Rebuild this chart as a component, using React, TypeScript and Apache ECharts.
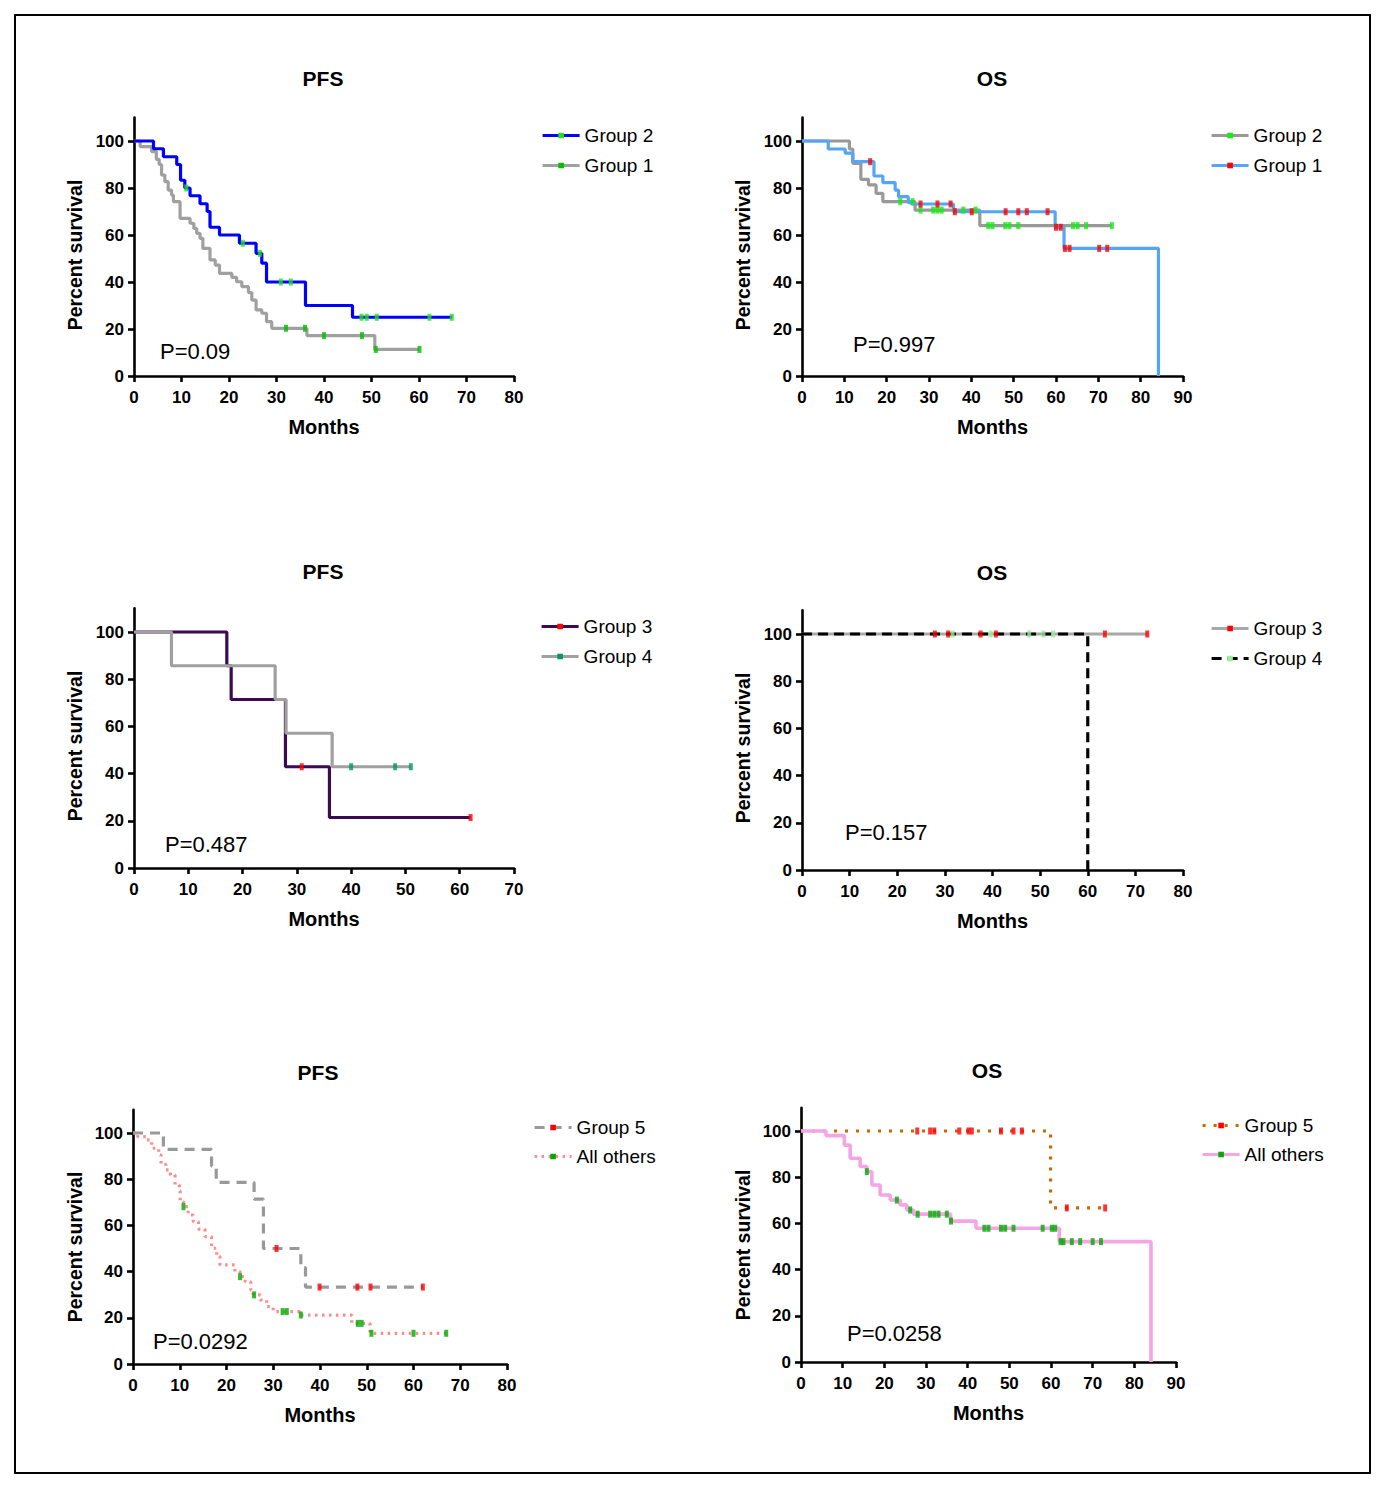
import React, { useEffect, useRef } from "react";
import * as echarts from "echarts";

const FONT = '"Liberation Sans", Arial, Helvetica, sans-serif';

// ---------- DATA ----------
const Y_TICKS = [0, 20, 40, 60, 80, 100];
const TITLES = ["PFS", "OS", "PFS", "OS", "PFS", "OS"];
const P_VALUES = ["P=0.09", "P=0.997", "P=0.487", "P=0.157", "P=0.0292", "P=0.0258"];
const X_MAX = [80, 90, 70, 80, 80, 90];

// Panel 1: PFS
const p1Group2 = [[0, 100], [4.1, 96.7], [6.2, 93.3], [9.0, 90.0], [9.8, 83.3], [10.7, 80.0], [11.8, 76.7], [13.9, 73.3], [15.4, 70.0], [16.0, 63.3], [18.0, 60.0], [22.2, 56.5], [25.7, 52.2], [26.9, 48.0], [27.9, 40.0], [36.1, 30.0], [46.0, 25.0], [67, 25.0]];
const p1Group2Cens = [11, 22.9, 26.5, 30.9, 33, 47.9, 49, 51.1, 62.2, 66.9];
const p1Group1 = [[0, 100], [1.3, 97.6], [3.7, 95.5], [4.7, 92.2], [5.3, 90], [5.8, 85.5], [6.5, 82.7], [7.2, 79.1], [7.9, 77], [8.3, 74.2], [9.7, 67.1], [11.8, 65], [12.6, 62.8], [13.2, 60.7], [13.9, 58.6], [14.5, 54.3], [16, 49.4], [17.1, 47.2], [18, 43.7], [20.6, 42], [21.6, 40.1], [22.7, 38], [24.1, 35.5], [24.8, 32.3], [25.7, 28.1], [26.9, 26.7], [27.9, 23.1], [29, 20.3], [36.4, 17.2], [50.7, 11.3], [60.1, 11.3]];
const p1Group1Cens = [32, 36, 40, 48, 50.9, 60.1];

// Panel 2: OS
const p2Group1 = [[0, 100], [6.2, 96.6], [10.2, 94.8], [12, 91.2], [17, 85.1], [19.1, 82.3], [22, 79.1], [22.8, 76.3], [25.1, 73.8], [25.9, 73.2], [35.8, 69.9], [59.8, 63.3], [61.9, 54.3], [84.2, 0]];
const p2Group1Cens = [16.1, 28, 32, 35.1, 36.1, 40.1, 48.1, 51.1, 53.1, 58, 60, 61.1, 62.1, 63.2, 70.2, 72.1];
const p2Group2 = [[0, 100], [11.2, 96.6], [12, 90.5], [13.9, 83.7], [15.7, 81.3], [17.5, 77.7], [19.1, 74.2], [26.7, 70.6], [42, 64], [73.2, 64]];
const p2Group2Cens = [23.2, 26.1, 28, 31, 32, 33, 38.1, 41, 44, 45, 48, 49, 51.1, 64, 65.1, 67.1, 73.2];

// Panel 3: PFS
const p3Group3 = [[0, 100], [17.1, 85.7], [17.9, 71.4], [27.9, 42.9], [36, 21.4], [62, 21.4]];
const p3Group3Cens = [30.9, 62];
const p3Group4 = [[0, 100], [6.9, 85.7], [26, 71.4], [28, 57.1], [36.5, 42.9], [51, 42.9]];
const p3Group4Cens = [40, 48.1, 51];

// Panel 4: OS
const p4Group3 = [[0, 100], [72.6, 100]];
const p4Group3Cens = [27.9, 30.7, 37.5, 40.7, 63.6, 72.5];
const p4Group4 = [[0, 100], [60, 0]];
const p4Group4Cens = [31.6, 39.6, 47.7, 50.7, 52.7];

// Panel 5: PFS
const p5Group5 = [[0, 100], [6.5, 92.9], [16.8, 85.7], [17.8, 78.6], [25.9, 71.4], [27.9, 50], [35.9, 41.7], [36.9, 33.3], [62, 33.3]];
const p5Group5Cens = [30.7, 39.9, 48, 50.8, 62];
const p5Others = [[0, 100], [1, 98.4], [3, 97], [4, 93.4], [5.5, 90.5], [6, 86.4], [7, 84], [8, 81.8], [9, 77.5], [9.9, 74.9], [10.1, 70.3], [10.8, 68.1], [11.8, 64.5], [12.9, 61.6], [14, 58.4], [15.4, 55.1], [16.8, 50.1], [17.9, 46.5], [18.6, 42.9], [21.8, 40], [22.9, 37.8], [24, 35.6], [25.2, 32], [25.7, 29.9], [27.2, 27.7], [28.6, 24.8], [30, 22.7], [35.7, 21.2], [46.8, 17.6], [50.7, 13.3], [67, 13.3]];
const p5OthersCens = [10.8, 22.9, 25.9, 32, 32.9, 35.9, 48.1, 48.9, 51, 60, 67];

// Panel 6: OS
const p6Group5 = [[0, 100], [59.9, 66.7], [73, 66.7]];
const p6Group5Cens = [27.9, 31, 32, 38, 40.2, 41, 48, 51, 53, 63.8, 73];
const p6Others = [[0, 100], [6, 98], [10.4, 93.9], [11.8, 88.2], [14.2, 84.6], [15.8, 82.4], [17, 76.6], [19, 72.3], [21.4, 70.1], [23.8, 68], [25.4, 65.8], [27, 64], [35.9, 61], [42, 57.9], [62, 52.1], [84, 0]];
const p6OthersCens = [15.8, 23, 26.2, 28, 31, 32, 33, 35, 36, 44, 45, 48, 49, 51, 58, 60.2, 61, 62.3, 63, 65, 67, 70, 72];

// ---------- STYLE / LAYOUT ----------
type Curve = { id: string; label: string; data: number[][]; cens: number[]; color: string; mark: string; width: number; dash?: any };

const PANEL_CURVES: Curve[][] = [
  [
    { id: "p1g1", label: "Group 1", data: p1Group1, cens: p1Group1Cens, color: "#a0a0a0", mark: "#00c000", width: 3.2 },
    { id: "p1g2", label: "Group 2", data: p1Group2, cens: p1Group2Cens, color: "#0000ff", mark: "#22e022", width: 3.2 },
  ],
  [
    { id: "p2g2", label: "Group 2", data: p2Group2, cens: p2Group2Cens, color: "#999999", mark: "#11ee11", width: 3.2 },
    { id: "p2g1", label: "Group 1", data: p2Group1, cens: p2Group1Cens, color: "#55a5f5", mark: "#ff0000", width: 3.2 },
  ],
  [
    { id: "p3g3", label: "Group 3", data: p3Group3, cens: p3Group3Cens, color: "#3b0a52", mark: "#ff0000", width: 3.2 },
    { id: "p3g4", label: "Group 4", data: p3Group4, cens: p3Group4Cens, color: "#a0a0a0", mark: "#009966", width: 3.2 },
  ],
  [
    { id: "p4g3", label: "Group 3", data: p4Group3, cens: p4Group3Cens, color: "#a8a8a8", mark: "#ff0000", width: 3.2 },
    { id: "p4g4", label: "Group 4", data: p4Group4, cens: p4Group4Cens, color: "#000000", mark: "#99ee99", width: 3.2, dash: [10, 6] },
  ],
  [
    { id: "p5o", label: "All others", data: p5Others, cens: p5OthersCens, color: "#ff8c8c", mark: "#00aa00", width: 3.2, dash: [2.5, 4.5] },
    { id: "p5g5", label: "Group 5", data: p5Group5, cens: p5Group5Cens, color: "#999999", mark: "#ff0000", width: 3.2, dash: [10, 7] },
  ],
  [
    { id: "p6g5", label: "Group 5", data: p6Group5, cens: p6Group5Cens, color: "#cc6600", mark: "#ff0000", width: 3.2, dash: [3, 8] },
    { id: "p6o", label: "All others", data: p6Others, cens: p6OthersCens, color: "#f5a5e6", mark: "#00aa00", width: 3.6 },
  ],
];
const LEGEND_ORDER = [["p1g2", "p1g1"], ["p2g2", "p2g1"], ["p3g3", "p3g4"], ["p4g3", "p4g4"], ["p5g5", "p5o"], ["p6g5", "p6o"]];

const LAYOUT = [
  { left: 134, width: 380, y0: 376, y100: 141, title: [323, 78], yName: [75, 255], p: [160, 351], legend: [541, 126], gap: 11 },
  { left: 802, width: 381, y0: 376, y100: 141, title: [992, 78], yName: [743, 255], p: [853, 344], legend: [1210, 126], gap: 11 },
  { left: 134, width: 380, y0: 868, y100: 632, title: [323, 571], yName: [75, 746], p: [165, 844], legend: [540, 617], gap: 11 },
  { left: 802, width: 381, y0: 870, y100: 634, title: [992, 572], yName: [743, 748], p: [845, 832], legend: [1210, 619], gap: 11 },
  { left: 133, width: 374, y0: 1364, y100: 1133, title: [318, 1072], yName: [75, 1247], p: [153, 1341], legend: [533, 1118], gap: 10 },
  { left: 801, width: 375, y0: 1362, y100: 1131, title: [987, 1070], yName: [743, 1245], p: [847, 1333], legend: [1201, 1116], gap: 10 },
];

function survAt(curve: number[][], t: number): number {
  let v = curve[0][1];
  for (const pt of curve) {
    if (pt[0] <= t) v = pt[1];
    else break;
  }
  return v;
}

function buildOption() {
  const labels: Record<string, string> = {};
  PANEL_CURVES.forEach((cs) => cs.forEach((c) => (labels[c.id] = c.label)));

  const grid: any[] = [];
  const xAxis: any[] = [];
  const yAxis: any[] = [];
  const series: any[] = [];
  const legend: any[] = [];
  const graphic: any[] = [
    { type: "rect", shape: { x: 15, y: 15, width: 1355, height: 1458 }, style: { fill: "none", stroke: "#000", lineWidth: 2 }, z: -10, silent: true },
  ];

  const axisLineStyle = { color: "#000", width: 2.6 };
  const labelStyle = { color: "#000", fontSize: 17, fontWeight: "bold", fontFamily: FONT };

  LAYOUT.forEach((L, i) => {
    const h100 = L.y0 - L.y100;
    const height = h100 * 1.1;
    grid.push({ left: L.left, top: L.y0 - height, width: L.width, height });
    xAxis.push({
      gridIndex: i, type: "value", min: 0, max: X_MAX[i], interval: 10,
      axisLine: { show: true, lineStyle: axisLineStyle },
      axisTick: { show: true, length: 6, lineStyle: axisLineStyle },
      axisLabel: { ...labelStyle, margin: 13 },
      splitLine: { show: false },
      name: "Months", nameLocation: "middle", nameGap: 41,
      nameTextStyle: { color: "#000", fontSize: 20, fontWeight: "bold", fontFamily: FONT },
    });
    yAxis.push({
      gridIndex: i, type: "value", min: 0, max: 110,
      axisLine: { show: true, lineStyle: axisLineStyle },
      axisTick: { show: true, length: 6, lineStyle: axisLineStyle, customValues: Y_TICKS },
      axisLabel: { ...labelStyle, margin: 10, customValues: Y_TICKS },
      splitLine: { show: false },
    });

    PANEL_CURVES[i].forEach((c) => {
      series.push({
        type: "line", name: c.id, xAxisIndex: i, yAxisIndex: i, data: c.data, step: "end",
        symbol: "rect", showSymbol: false, symbolSize: [4, 7],
        lineStyle: { color: c.color, width: c.width, type: c.dash || "solid", cap: "butt" },
        itemStyle: { color: c.mark },
        silent: true, emphasis: { disabled: true },
      });
    });
    PANEL_CURVES[i].forEach((c) => {
      series.push({
        type: "scatter", name: c.id + "_cens", xAxisIndex: i, yAxisIndex: i,
        data: c.cens.map((t) => [t, survAt(c.data, t)]),
        symbol: "rect", symbolSize: [4, 7], itemStyle: { color: c.mark },
        silent: true, z: 3,
      });
    });

    legend.push({
      orient: "vertical", left: L.legend[0], top: L.legend[1], padding: 0,
      itemWidth: 37, itemHeight: 7, itemGap: L.gap, selectedMode: false,
      data: LEGEND_ORDER[i],
      formatter: (n: string) => labels[n] || n,
      lineStyle: { width: 3.2 },
      textStyle: { color: "#000", fontSize: 19, fontFamily: FONT },
    });

    graphic.push({
      type: "text", x: L.title[0], y: L.title[1], silent: true,
      style: { text: TITLES[i], fill: "#000", fontSize: 21, fontWeight: "bold", fontFamily: FONT, align: "center", verticalAlign: "middle" },
    });
    graphic.push({
      type: "text", x: L.yName[0], y: L.yName[1], rotation: Math.PI / 2, silent: true,
      style: { text: "Percent survival", fill: "#000", fontSize: 19.5, fontWeight: "bold", fontFamily: FONT, align: "center", verticalAlign: "middle" },
    });
    graphic.push({
      type: "text", x: L.p[0], y: L.p[1], silent: true,
      style: { text: P_VALUES[i], fill: "#000", fontSize: 22, fontFamily: FONT, align: "left", verticalAlign: "middle" },
    });
  });

  return {
    animation: false,
    backgroundColor: "#fff",
    textStyle: { fontFamily: FONT },
    grid, xAxis, yAxis, series, legend, graphic,
  };
}

export default function App() {
  const ref = useRef<HTMLDivElement>(null);
  useEffect(() => {
    if (!ref.current) return;
    const chart = echarts.init(ref.current, null, { renderer: "svg" });
    chart.setOption(buildOption() as any);
    return () => chart.dispose();
  }, []);
  return (
    <div
      ref={ref}
      style={{ position: "absolute", left: 0, top: 0, width: 1380, height: 1498, background: "#fff" }}
    />
  );
}
